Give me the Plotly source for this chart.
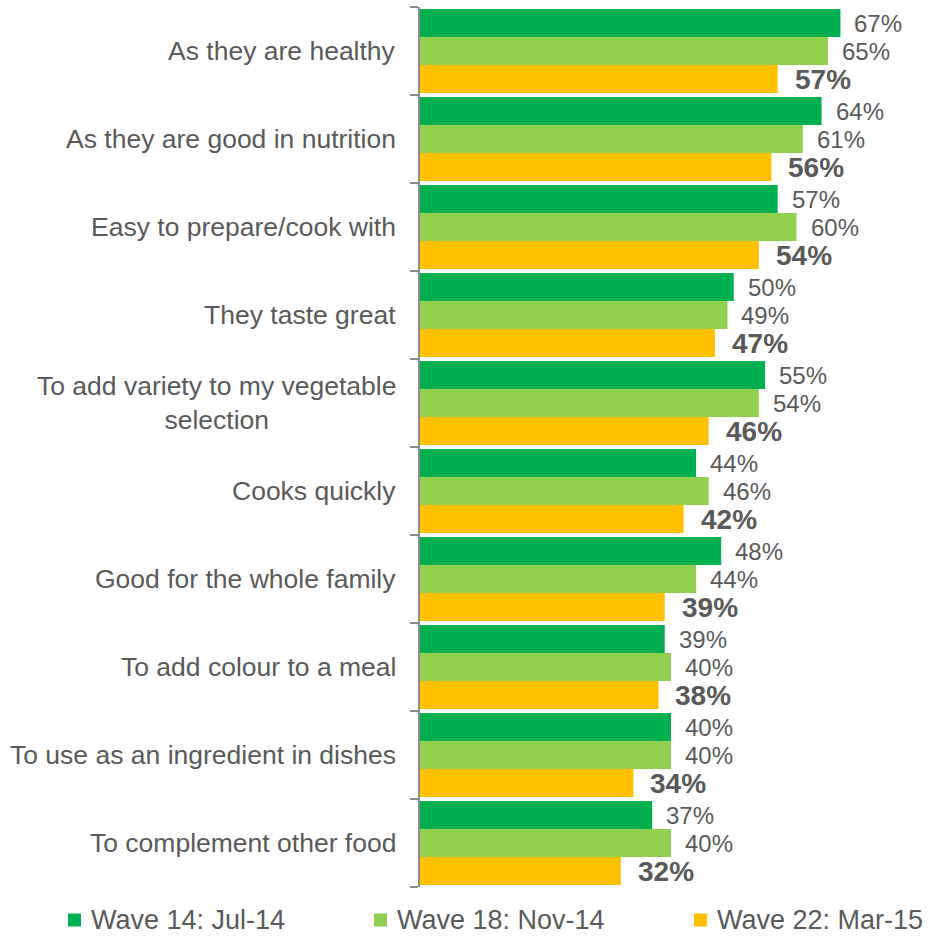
import plotly.graph_objects as go

# Reasons for buying, share of respondents (%) per survey wave
categories = [
    "As they are healthy",
    "As they are good in nutrition",
    "Easy to prepare/cook with",
    "They taste great",
    "To add variety to my vegetable<br>selection",
    "Cooks quickly",
    "Good for the whole family",
    "To add colour to a meal",
    "To use as an ingredient in dishes",
    "To complement other food",
]
wave14 = [67, 64, 57, 50, 55, 44, 48, 39, 40, 37]
wave18 = [65, 61, 60, 49, 54, 46, 44, 40, 40, 40]
wave22 = [57, 56, 54, 47, 46, 42, 39, 38, 34, 32]

series_names = ["Wave 14: Jul-14", "Wave 18: Nov-14", "Wave 22: Mar-15"]
series_values = [wave14, wave18, wave22]
series_colors = ["#00B050", "#92D050", "#FFC000"]

FONT = "Liberation Sans, Arial, sans-serif"
TEXT_GREY = "#595959"
AXIS_GREY = "#8C8C8C"

W, H = 932, 936
M_L, M_R, M_T, M_B = 420, 10, 7, 49
PLOT_W = W - M_L - M_R
PLOT_H = H - M_T - M_B


def px_to_paper_x(px):
    return (px - M_L) / PLOT_W


def px_to_paper_y(py):
    return (H - M_B - py) / PLOT_H


fig = go.Figure()
idx = list(range(len(categories)))

for name, vals, col in zip(series_names, series_values, series_colors):
    fig.add_trace(go.Bar(
        y=idx, x=vals, name=name, orientation="h",
        marker=dict(color=col, line=dict(width=0)),
        hoverinfo="x+name", showlegend=False,
    ))

annotations = []
# value labels beside each bar; the latest wave is shown in bold
shifts = [28, 0, -28]
for s, vals in enumerate(series_values):
    bold = s == 2
    for i, v in enumerate(vals):
        annotations.append(dict(
            x=v, y=i, xref="x", yref="y",
            text=f"<b>{v}%</b>" if bold else f"{v}%",
            showarrow=False, xanchor="left", yanchor="middle",
            xshift=15 if bold else 12, yshift=shifts[s],
            font=dict(family=FONT, size=28 if bold else 24, color=TEXT_GREY),
        ))

# category names, centred when wrapped onto two lines
for i, c in enumerate(categories):
    annotations.append(dict(
        x=0, y=i, xref="paper", yref="y", text=c,
        showarrow=False, xanchor="right", yanchor="middle", align="center",
        xshift=-22,
        font=dict(family=FONT, size=26.5, color=TEXT_GREY),
    ))

# legend row along the bottom: colour square followed by the wave name
legend_x = [68, 374, 694]
SQ = 13
LEG_Y = 920
shapes = []
for name, col, lx in zip(series_names, series_colors, legend_x):
    shapes.append(dict(
        type="rect", xref="paper", yref="paper",
        x0=px_to_paper_x(lx), x1=px_to_paper_x(lx + SQ),
        y0=px_to_paper_y(LEG_Y + SQ / 2), y1=px_to_paper_y(LEG_Y - SQ / 2),
        fillcolor=col, line=dict(width=0), layer="above",
    ))
    annotations.append(dict(
        x=px_to_paper_x(lx + SQ + 8), y=px_to_paper_y(LEG_Y),
        xref="paper", yref="paper", text=name,
        showarrow=False, xanchor="left", yanchor="middle",
        font=dict(family=FONT, size=27, color=TEXT_GREY),
    ))

fig.update_layout(
    width=W, height=H,
    margin=dict(l=M_L, r=M_R, t=M_T, b=M_B),
    paper_bgcolor="white", plot_bgcolor="white",
    barmode="group", bargap=0.045, bargroupgap=0,
    showlegend=False,
    xaxis=dict(
        range=[0, 80], showgrid=False, zeroline=False,
        showticklabels=False, showline=False, ticks="",
    ),
    yaxis=dict(
        type="linear", range=[9.5, -0.5], showgrid=False, zeroline=False,
        showticklabels=False, showline=True, linecolor=AXIS_GREY, linewidth=1.5,
        ticks="outside", ticklen=8, tickwidth=1.5, tickcolor=AXIS_GREY,
        tickmode="array", tickvals=[k - 0.5 for k in range(len(categories) + 1)],
    ),
    annotations=annotations,
    shapes=shapes,
    font=dict(family=FONT, color=TEXT_GREY),
)

fig.write_html("out.html")
